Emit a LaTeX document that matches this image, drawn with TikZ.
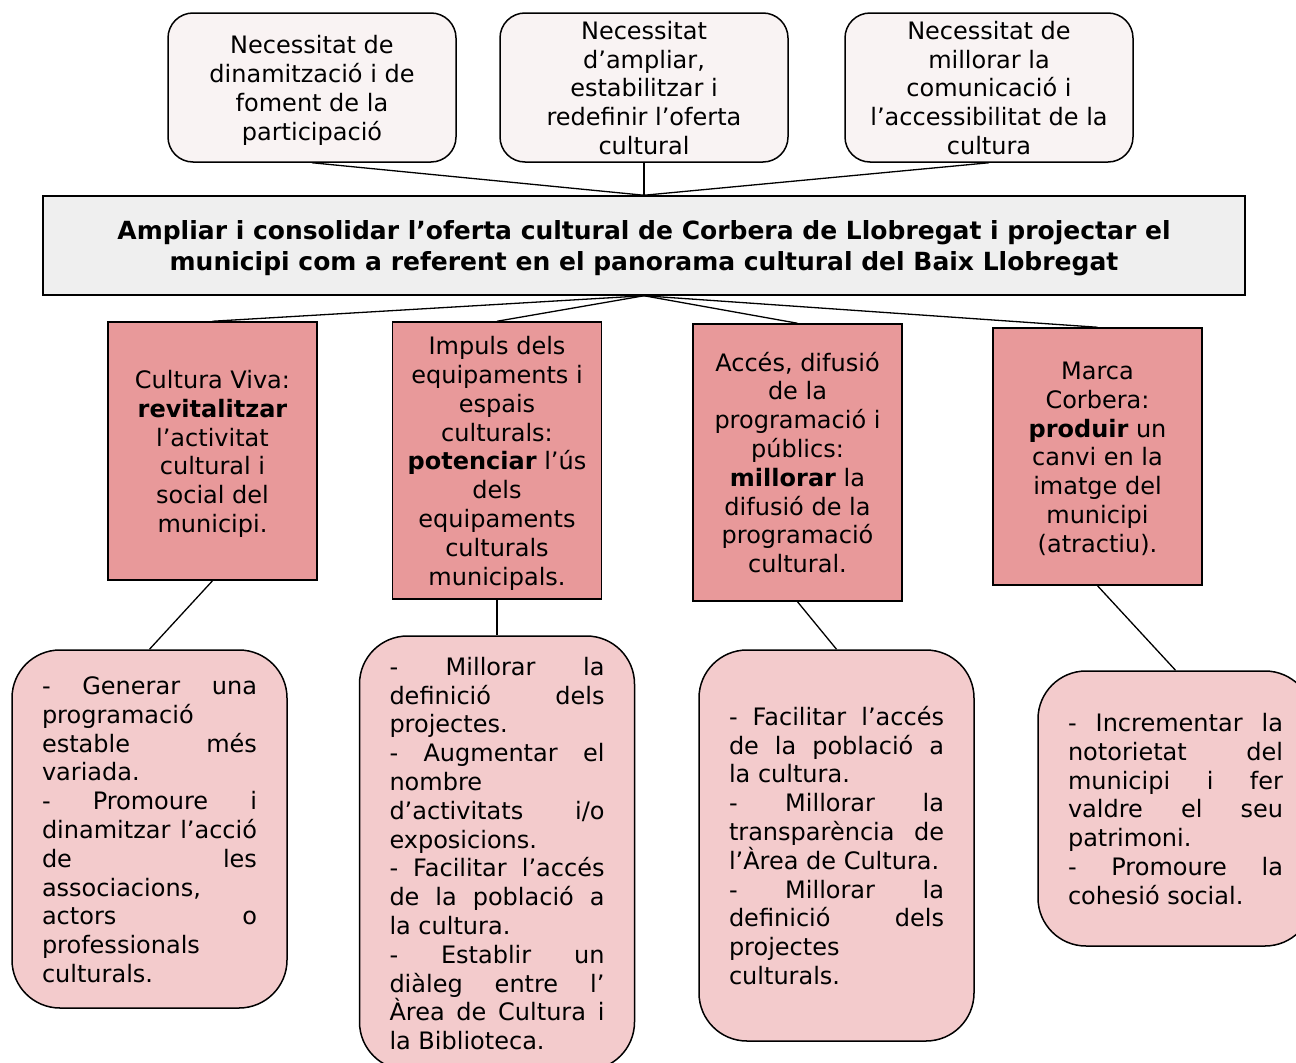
\documentclass[tikz,border=0pt]{standalone}
\usepackage{fontspec}
\setmainfont{DejaVu Sans}
\definecolor{topfill}{RGB}{249,243,243}
\definecolor{mainfill}{RGB}{239,239,239}
\definecolor{midfill}{RGB}{232,153,154}
\definecolor{botfill}{RGB}{243,203,204}
\newcommand{\mys}{\vrule height 23.8pt depth 5pt width 0pt}
\newcommand{\mybs}{\vrule height 24.8pt depth 5.2pt width 0pt}
\newcommand{\jtext}[1]{\parbox{215pt}{\tolerance=10000\hyphenpenalty=10000\hbadness=10000 \leavevmode\mys #1\mys}}
\newcommand{\ctext}[2]{\parbox{#1}{\centering\leavevmode\mys #2\mys}}
\begin{document}
\begin{tikzpicture}[x=1pt,y=-1pt,
  base/.style={draw=black, line width=1.5pt, inner sep=0pt,
    font=\fontsize{24}{28.8}\selectfont},
  topbox/.style={base, rounded corners=25pt, fill=topfill, minimum width=288pt, minimum height=149pt},
  mainbox/.style={base, fill=mainfill, minimum width=1202pt, minimum height=99pt,
    font=\fontsize{25}{30}\selectfont\bfseries},
  midbox/.style={base, fill=midfill, minimum width=209pt},
  botbox/.style={base, rounded corners=48pt, fill=botfill, minimum width=275pt},
  link/.style={draw=black, line width=1.3pt}
]
\useasboundingbox (0,0) rectangle (1296,1063);

% top boxes
\node[topbox] (t1) at (312,87.5) {\ctext{280pt}{Necessitat de\\dinamització i de\\foment de la\\participació}};
\node[topbox] (t2) at (644,87.5) {\ctext{280pt}{Necessitat\\d’ampliar,\\estabilitzar i\\redefinir l’oferta\\cultural}};
\node[topbox] (t3) at (989,87.5) {\ctext{280pt}{Necessitat de\\millorar la\\comunicació i\\l’accessibilitat de la\\cultura}};

% main
\node[mainbox] (m) at (644,245.5) {\parbox{1190pt}{\centering\leavevmode\mybs Ampliar i consolidar l’oferta cultural de Corbera de Llobregat i projectar el\\municipi com a referent en el panorama cultural del Baix Llobregat\mybs}};

% middle boxes
\node[midbox, minimum height=258pt] (c1) at (212.5,451) {\ctext{205pt}{Cultura Viva:\\\textbf{revitalitzar}\\l’activitat\\cultural i\\social del\\municipi.}};
\node[midbox, minimum height=277pt] (c2) at (497,460.5) {\ctext{205pt}{Impuls dels\\equipaments i\\espais\\culturals:\\\textbf{potenciar} l’ús\\dels\\equipaments\\culturals\\municipals.}};
\node[midbox, minimum height=277pt] (c3) at (797.5,462.5) {\ctext{205pt}{Accés, difusió\\de la\\programació i\\públics:\\\textbf{millorar} la\\difusió de la\\programació\\cultural.}};
\node[midbox, minimum height=257pt] (c4) at (1097.5,456.5) {\ctext{205pt}{Marca\\Corbera:\\\textbf{produir} un\\canvi en la\\imatge del\\municipi\\(atractiu).}};

% bottom boxes
\node[botbox, minimum height=358pt] (b1) at (149.5,829) {\jtext{- Generar una\linebreak programació\linebreak estable més\linebreak variada.\par - Promoure i\linebreak dinamitzar l’acció\linebreak de les\linebreak associacions,\linebreak actors o\linebreak professionals\linebreak culturals.}};
\node[botbox, minimum height=434pt] (b2) at (497,853) {\jtext{- Millorar la\linebreak definició dels\linebreak projectes.\par - Augmentar el\linebreak nombre\linebreak d’activitats i/o\linebreak exposicions.\par - Facilitar l’accés\linebreak de la població a\linebreak la cultura.\par - Establir un\linebreak diàleg entre l’\linebreak Àrea de Cultura i\linebreak la Biblioteca.}};
\node[botbox, minimum height=391pt] (b3) at (836.5,845.5) {\jtext{- Facilitar l’accés\linebreak de la població a\linebreak la cultura.\par - Millorar la\linebreak transparència de\linebreak l’Àrea de Cultura.\par - Millorar la\linebreak definició dels\linebreak projectes\linebreak culturals.}};
\node[botbox, minimum height=275pt] (b4) at (1175.5,808.5) {\jtext{- Incrementar la\linebreak notorietat del\linebreak municipi i fer\linebreak valdre el seu\linebreak patrimoni.\par - Promoure la\linebreak cohesió social.}};

% connectors
\draw[link] (t1.south) -- (m.north);
\draw[link] (t2.south) -- (m.north);
\draw[link] (t3.south) -- (m.north);
\foreach \c in {c1,c2,c3,c4} \draw[link] (m.south) -- (\c.north);
\draw[link] (c1.south) -- (b1.north);
\draw[link] (c2.south) -- (b2.north);
\draw[link] (c3.south) -- (b3.north);
\draw[link] (c4.south) -- (b4.north);
\end{tikzpicture}
\end{document}
